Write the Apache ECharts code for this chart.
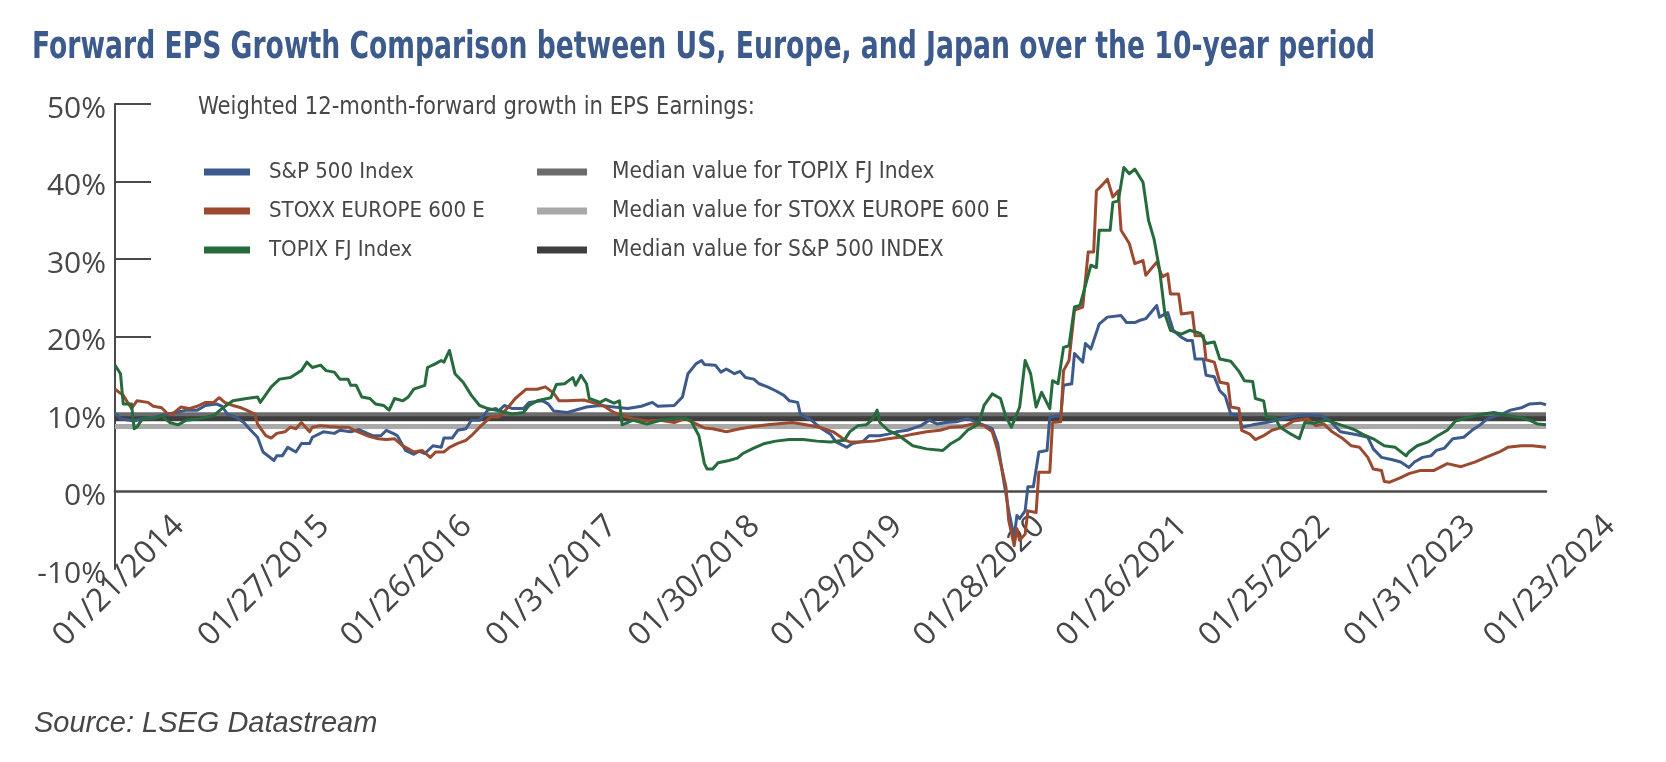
<!DOCTYPE html>
<html>
<head>
<meta charset="utf-8">
<title>Forward EPS Growth</title>
<script src="https://cdn.jsdelivr.net/npm/echarts@6/dist/echarts.min.js"></script>
<style>
  html, body { margin: 0; padding: 0; background: #fff; }
  #chart { width: 1666px; height: 762px; }
</style>
</head>
<body>
<div id="chart"></div>
<script>
// x positions are week numbers counted from 01/21/2014
const tickWeeks = [0, 53, 105, 158, 210, 262, 314, 366, 418, 471, 522]
const tickLabels = ['01/21/2014', '01/27/2015', '01/26/2016', '01/31/2017', '01/30/2018',
  '01/29/2019', '01/28/2020', '01/26/2021', '01/25/2022', '01/31/2023', '01/23/2024']

const sp500 = [
  [0,10.1],[2,9.4],[7,9.1],[10,9.4],[14,9.6],[17,9.8],[21,10.1],[26,10.5],[30,10.5],[33,11.1],
  [37,11.3],[39,11.0],[41,10.0],[44,9.6],[47,8.9],[49,8.1],[52,7.0],[54,5.1],[58,4.0],[59,4.6],
  [61,4.6],[63,5.7],[66,5.1],[68,6.2],[71,6.2],[72,7.0],[76,7.7],[80,7.5],[82,7.9],[86,7.7],
  [89,8.0],[92,7.5],[94,7.2],[97,7.2],[99,7.9],[102,7.4],[103,7.2],[106,5.3],[109,4.8],[111,5.2],
  [113,4.9],[116,5.9],[119,5.7],[120,6.9],[123,6.9],[125,7.9],[128,8.1],[130,9.2],[133,9.2],[136,10.5],
  [139,10.7],[140,10.4],[142,11.1],[145,10.7],[149,10.7],[151,11.5],[156,11.7],[158,11.3],[160,10.4],[165,10.2],
  [172,10.9],[177,11.1],[182,10.9],[187,10.7],[192,11.0],[196,11.5],[198,11.0],[204,11.1],[207,12.2],[209,15.2],
  [212,16.5],[214,16.9],[215,16.4],[219,16.3],[221,15.4],[223,15.8],[226,15.2],[228,15.5],[230,14.7],[233,14.5],
  [235,13.9],[238,13.5],[241,13.0],[244,12.4],[246,11.7],[249,11.5],[250,10.0],[254,9.2],[257,8.3],[261,7.4],
  [263,6.4],[267,5.7],[269,6.2],[273,6.5],[275,7.2],[279,7.2],[282,7.4],[285,7.7],[289,7.9],[294,8.5],
  [297,9.2],[300,8.7],[303,8.9],[307,9.0],[311,9.4],[316,8.7],[320,8.1],[322,6.2],[324,1.8],[326,-2.5],
  [328,-5.9],[329,-3.1],[330,-3.5],[332,-2.5],[333,0.6],[335,0.6],[337,5.1],[340,5.3],[341,9.6],[345,9.8],
  [346,13.7],[349,13.9],[350,17.8],[353,16.7],[354,19.1],[356,18.4],[359,21.6],[362,22.5],[367,22.7],[369,21.8],
  [372,21.8],[374,22.1],[376,22.3],[380,24.0],[381,22.5],[384,23.1],[386,20.8],[389,19.9],[391,19.5],[393,19.5],
  [394,17.1],[397,17.1],[398,15.0],[401,14.8],[403,13.0],[405,12.3],[407,10.0],[410,9.9],[411,8.3],[415,8.6],
  [420,8.9],[425,9.3],[430,9.7],[435,9.9],[440,9.8],[443,9.2],[447,7.7],[452,7.4],[457,7.0],[459,5.5],
  [462,4.4],[466,4.1],[469,3.8],[472,3.1],[474,3.8],[477,4.4],[480,4.6],[482,5.3],[485,5.6],[488,6.8],
  [492,7.0],[495,7.9],[498,8.6],[500,9.2],[503,9.7],[506,10.0],[509,10.5],[513,10.8],[516,11.3],[520,11.4],
  [522,11.2]
]

const stoxx600 = [
  [0,13.2],[3,12.4],[6,10.7],[8,11.7],[12,11.5],[14,11.0],[17,10.8],[19,10.1],[21,10.0],[24,10.9],
  [27,10.7],[30,11.0],[33,11.5],[36,11.5],[38,12.1],[40,11.5],[43,11.1],[46,10.8],[48,10.5],[51,10.0],
  [52,8.7],[55,7.2],[57,6.9],[59,7.5],[62,7.7],[64,8.3],[66,8.1],[68,8.9],[71,7.7],[72,8.3],
  [75,8.5],[78,8.4],[82,8.3],[85,8.3],[88,7.8],[92,7.2],[96,6.8],[99,6.7],[102,6.8],[105,5.9],
  [107,5.5],[109,5.1],[112,5.3],[115,4.4],[117,5.1],[120,5.1],[122,5.7],[125,6.2],[128,6.6],[130,7.2],
  [133,8.3],[137,9.6],[140,9.6],[143,10.7],[146,12.0],[150,13.2],[154,13.2],[157,13.5],[160,12.7],[162,11.7],
  [165,11.7],[171,11.8],[174,11.5],[178,11.1],[182,10.2],[185,9.8],[189,9.4],[194,9.1],[199,9.2],[204,8.9],
  [208,9.4],[211,8.9],[215,8.2],[218,8.1],[223,7.7],[228,8.1],[233,8.4],[238,8.6],[244,8.8],[247,8.9],
  [252,8.6],[257,8.3],[262,7.7],[266,6.7],[268,6.4],[272,6.4],[277,6.5],[282,6.8],[286,7.0],[291,7.4],
  [296,7.7],[301,7.9],[305,8.3],[309,8.4],[313,8.7],[317,8.5],[320,7.7],[322,5.3],[325,0.6],[326,-3.7],
  [328,-7.0],[329,-4.8],[330,-6.3],[332,-5.5],[333,-2.5],[336,-2.7],[337,2.5],[341,2.5],[342,8.9],[345,9.0],
  [346,15.6],[348,16.9],[350,23.4],[353,23.8],[355,30.9],[357,30.9],[358,38.8],[360,39.5],[362,40.3],[364,38.0],
  [366,38.8],[367,33.7],[370,32.0],[372,29.4],[375,29.8],[376,27.9],[380,29.6],[382,27.7],[384,28.1],[385,25.5],
  [388,25.5],[389,22.9],[393,23.1],[394,20.1],[397,20.1],[398,17.0],[401,16.7],[403,14.1],[406,13.9],[407,10.9],
  [410,10.7],[411,7.9],[414,7.4],[416,6.7],[419,7.2],[422,7.9],[426,8.3],[430,9.1],[435,9.4],[438,8.5],
  [441,8.7],[444,7.7],[448,6.8],[451,5.9],[454,5.7],[457,4.4],[459,2.9],[462,2.7],[463,1.3],[465,1.2],
  [469,1.8],[472,2.3],[476,2.7],[481,2.7],[486,3.6],[491,3.2],[496,3.8],[500,4.4],[505,5.1],[508,5.7],
  [513,5.9],[517,5.9],[522,5.7]
]

const topixFJ = [
  [0,16.3],[2,15.2],[3,11.3],[6,11.3],[7,8.1],[8,8.3],[10,9.4],[14,9.4],[17,9.8],[20,8.9],
  [23,8.6],[26,9.2],[31,9.4],[36,9.8],[39,10.7],[43,11.7],[48,12.0],[52,12.2],[53,11.5],[57,13.5],
  [60,14.5],[64,14.7],[67,15.4],[68,15.6],[70,16.7],[72,16.0],[75,16.3],[77,15.6],[80,15.4],[82,14.5],
  [85,14.5],[86,13.7],[88,13.7],[90,12.2],[93,12.0],[95,11.3],[98,11.1],[100,10.5],[102,12.0],[105,11.7],
  [107,12.2],[109,13.2],[113,13.7],[114,16.0],[117,16.5],[119,16.9],[120,16.7],[122,18.2],[124,15.2],[127,14.1],
  [130,12.4],[133,11.1],[136,10.7],[140,10.4],[145,10.0],[149,10.2],[151,11.1],[154,11.7],[159,12.1],[161,13.8],
  [164,13.9],[167,14.7],[168,13.7],[170,15.0],[172,13.9],[173,12.0],[177,11.5],[179,11.9],[182,11.4],[184,11.7],
  [185,8.6],[189,9.2],[194,8.7],[199,9.2],[204,9.4],[207,9.5],[210,9.2],[213,7.2],[215,3.6],[216,2.9],
  [218,2.9],[220,3.7],[224,4.0],[227,4.3],[229,4.9],[233,5.6],[237,6.2],[241,6.5],[246,6.7],[251,6.7],
  [256,6.5],[261,6.4],[266,6.6],[268,7.7],[271,8.5],[274,8.6],[276,9.2],[278,10.5],[279,8.9],[282,7.9],
  [286,7.2],[291,5.9],[296,5.5],[302,5.3],[305,6.2],[308,6.8],[311,7.9],[315,8.7],[317,11.1],[320,12.6],
  [323,12.0],[325,9.6],[327,8.3],[330,10.9],[332,16.9],[334,15.2],[336,10.9],[338,12.8],[341,10.7],[342,14.3],
  [344,13.9],[346,18.6],[348,18.8],[350,23.8],[352,24.0],[356,29.2],[358,28.9],[359,33.7],[363,33.7],[364,37.3],
  [366,37.5],[368,41.8],[370,41.0],[372,41.6],[375,39.9],[377,35.0],[379,32.6],[381,28.7],[383,22.9],[385,20.8],
  [389,20.3],[392,20.8],[396,20.4],[398,19.1],[401,19.3],[403,17.1],[407,16.8],[410,15.5],[412,14.3],[415,14.2],
  [416,12.0],[419,11.7],[420,9.6],[423,9.6],[425,8.3],[429,7.4],[432,6.8],[434,8.9],[437,8.8],[442,9.2],
  [447,8.6],[452,8.0],[455,7.4],[459,6.8],[463,5.9],[467,5.7],[471,4.6],[472,5.1],[475,5.9],[479,6.4],
  [482,7.1],[486,7.9],[489,9.1],[494,9.6],[499,10.0],[503,10.2],[508,9.8],[513,9.5],[516,9.2],[519,8.7],
  [522,8.6]
]

// median levels
const medianTopix = 9.9
const medianStoxx = 8.4
const medianSP = 9.4

const chart = echarts.init(document.getElementById('chart'))

const narrow = "'Liberation Sans Narrow', 'DejaVu Sans Condensed', sans-serif"
const textColor = '#474747'

function lineSeries(name, data, color, width, z) {
  return {
    name: name,
    type: 'line',
    xAxisIndex: 0,
    data: data,
    showSymbol: false,
    symbol: 'none',
    z: z,
    itemStyle: { color: color },
    lineStyle: { color: color, width: width, join: 'round' },
    silent: true,
    animation: false,
  }
}

function medianLine(value) {
  return [[0, value], [522, value]]
}

const option = {
  backgroundColor: '#ffffff',
  animation: false,
  grid: {
    left: 115,
    right: 120,
    top: 104,
    bottom: 193,
    containLabel: false,
    outerBoundsMode: 'none',
  },
  legend: [
    {
      orient: 'vertical',
      left: 199,
      top: 155,
      icon: 'rect',
      itemWidth: 46,
      itemHeight: 7,
      itemGap: 15,
      selectedMode: false,
      data: ['S&P 500 Index', 'STOXX EUROPE 600 E', 'TOPIX FJ Index'],
      textStyle: { fontFamily: narrow, fontSize: 22, lineHeight: 24, color: textColor, padding: [0, 0, 0, 14] },
    },
    {
      orient: 'vertical',
      left: 532,
      top: 155,
      icon: 'rect',
      itemWidth: 50,
      itemHeight: 7,
      itemGap: 15,
      selectedMode: false,
      data: ['Median value for TOPIX FJ Index', 'Median value for STOXX EUROPE 600 E', 'Median value for S&P 500 INDEX'],
      textStyle: { fontFamily: narrow, fontSize: 22.5, lineHeight: 24, color: textColor, padding: [0, 0, 0, 20] },
    },
  ],
  xAxis: [
    {
      type: 'value',
      min: 0,
      max: 522,
      position: 'bottom',
      axisLine: { show: false, onZero: false },
      axisTick: { show: false },
      splitLine: { show: false },
      axisLabel: {
        customValues: tickWeeks,
        rotate: 45,
        align: 'center',
        verticalAlign: 'middle',
        margin: 16,
        padding: [11, 0, 0, 11],
        fontFamily: "'Open Sans', sans-serif",
        fontSize: 32,
        color: textColor,
        formatter: function (v) {
          const i = tickWeeks.indexOf(v)
          return i >= 0 ? tickLabels[i] : ''
        },
      },
    },
    {
      // zero line
      type: 'value',
      min: 0,
      max: 522,
      position: 'bottom',
      axisLine: { show: true, onZero: true, lineStyle: { color: '#4a4a4a', width: 2.5 } },
      axisTick: { show: false },
      axisLabel: { show: false },
      splitLine: { show: false },
    },
  ],
  yAxis: {
    type: 'value',
    min: -10,
    max: 50,
    interval: 10,
    axisLine: { show: true, lineStyle: { color: '#4a4a4a', width: 2 } },
    axisTick: {
      show: true,
      inside: true,
      length: 36,
      customValues: [10, 20, 30, 40, 50],
      lineStyle: { color: '#4a4a4a', width: 2 },
    },
    splitLine: { show: false },
    axisLabel: {
      margin: 9,
      verticalAlign: 'top',
      lineHeight: 10,
      fontFamily: "'Open Sans', sans-serif",
      fontSize: 30,
      color: textColor,
      formatter: '{value}%',
    },
  },
  series: [
    lineSeries('Median value for TOPIX FJ Index', medianLine(medianTopix), '#6b6b6b', 5, 1),
    lineSeries('Median value for STOXX EUROPE 600 E', medianLine(medianStoxx), '#a9a9a9', 5, 1),
    lineSeries('Median value for S&P 500 INDEX', medianLine(medianSP), '#3e3e3e', 5, 1),
    lineSeries('S&P 500 Index', sp500, '#3d5a8c', 3, 3),
    lineSeries('STOXX EUROPE 600 E', stoxx600, '#9c4a2f', 3, 3),
    lineSeries('TOPIX FJ Index', topixFJ, '#256b3b', 3, 3),
  ],
  graphic: [
    {
      type: 'text',
      x: 32,
      y: 30,
      scaleX: 0.8,
      style: {
        text: 'Forward EPS Growth Comparison between US, Europe, and Japan over the 10-year period',
        fontFamily: narrow,
        fontWeight: 'bold',
        fontSize: 37,
        fill: '#3c5a8c',
        verticalAlign: 'top',
      },
    },
    {
      type: 'text',
      x: 198,
      y: 96,
      scaleX: 0.98,
      style: {
        text: 'Weighted 12-month-forward growth in EPS Earnings:',
        fontFamily: narrow,
        fontSize: 24,
        fill: textColor,
        verticalAlign: 'top',
      },
    },
    {
      type: 'text',
      x: 34,
      y: 709,
      style: {
        text: 'Source: LSEG Datastream',
        fontFamily: "'Liberation Sans', sans-serif",
        fontStyle: 'italic',
        fontSize: 29,
        fill: textColor,
        verticalAlign: 'top',
      },
    },
  ],
}

chart.setOption(option)
</script>
</body>
</html>
